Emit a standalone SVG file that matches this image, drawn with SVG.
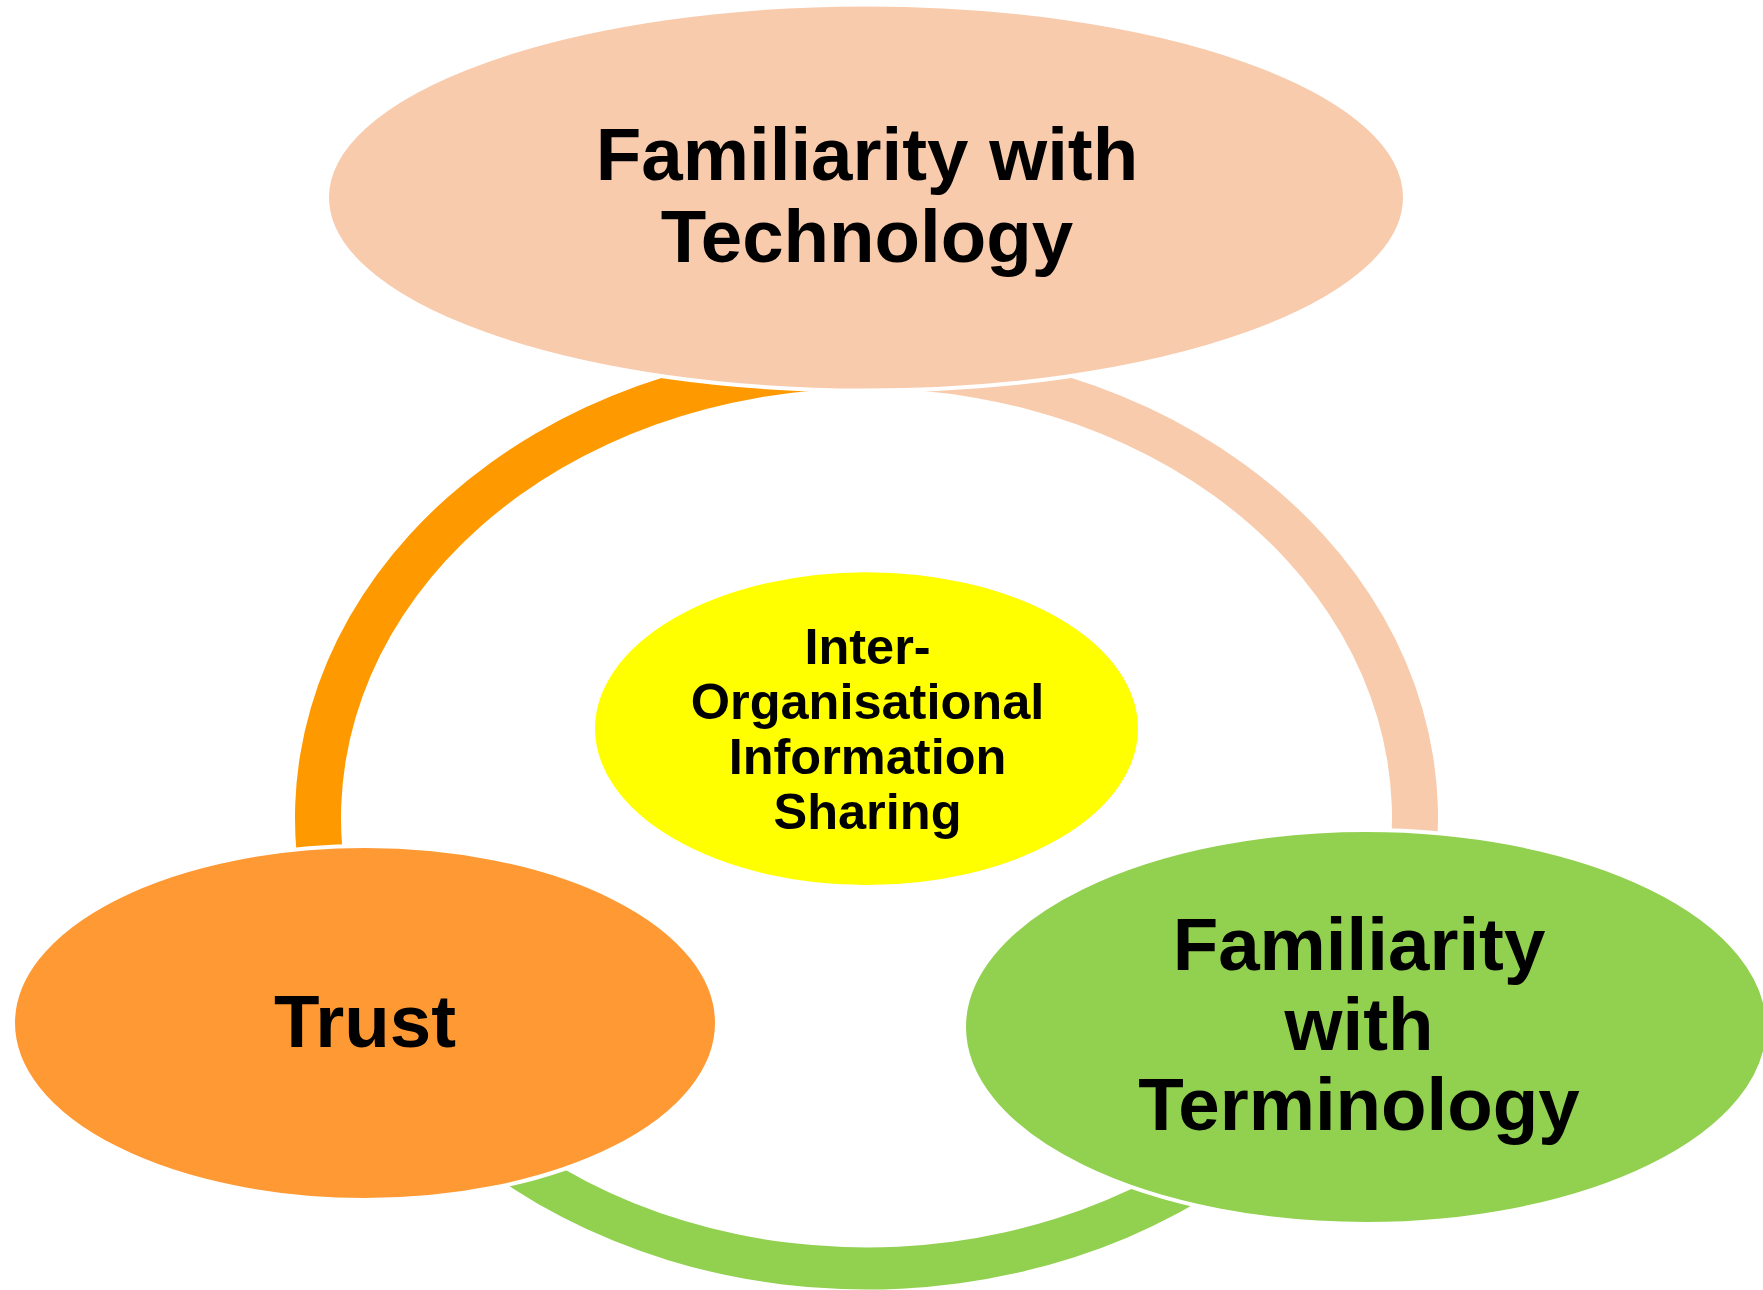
<svg xmlns="http://www.w3.org/2000/svg" width="1763" height="1290" viewBox="0 0 1763 1290">
<style>
.node { stroke: #ffffff; stroke-width: 4; }
.big { font-family: "Liberation Sans", Arial, sans-serif; font-weight: bold; font-size: 74.5px; fill: #000000; text-anchor: middle; }
.small { font-family: "Liberation Sans", Arial, sans-serif; font-weight: bold; font-size: 50.5px; fill: #000000; text-anchor: middle; }
</style>
<rect x="0" y="0" width="1763" height="1290" fill="#ffffff"/>
<g id="connectors">
<path id="arc-trust-technology" fill="#FF9900" d="M 303.68 899.87 A 571.5 471.5 0 0 1 806.76 349.08 L 811.57 390.85 A 525.5 429.5 0 0 0 348.98 892.58 Z"/>
<path id="arc-technology-terminology" fill="#F8CBAD" d="M 926.24 349.08 A 571.5 471.5 0 0 1 1429.32 899.87 L 1384.02 892.58 A 525.5 429.5 0 0 0 921.43 390.85 Z"/>
<path id="arc-terminology-trust" fill="#92D050" d="M 1270.61 1151.40 A 571.5 471.5 0 0 1 428.71 1121.07 L 463.94 1094.08 A 525.5 429.5 0 0 0 1238.08 1121.70 Z"/>
</g>
<g id="node-technology">
<ellipse class="node" cx="866" cy="197.5" rx="539" ry="193" fill="#F8CBAD"/>
<text class="big" x="867" y="180">Familiarity with</text>
<text class="big" x="867" y="262">Technology</text>
</g>
<g id="node-trust">
<ellipse class="node" cx="365" cy="1023" rx="352" ry="177" fill="#FF9933"/>
<text class="big" x="365" y="1046.5">Trust</text>
</g>
<g id="node-terminology">
<ellipse class="node" cx="1366" cy="1027" rx="402" ry="197" fill="#92D050"/>
<text class="big" x="1359" y="970">Familiarity</text>
<text class="big" x="1359" y="1050">with</text>
<text class="big" x="1359" y="1130">Terminology</text>
</g>
<g id="node-center">
<ellipse class="node" cx="866.5" cy="728.6" rx="273.5" ry="158.4" fill="#FFFF00"/>
<text class="small" x="867.5" y="663.5">Inter-</text>
<text class="small" x="867.5" y="718.5">Organisational</text>
<text class="small" x="867.5" y="773.5">Information</text>
<text class="small" x="867.5" y="828.5">Sharing</text>
</g>
</svg>
